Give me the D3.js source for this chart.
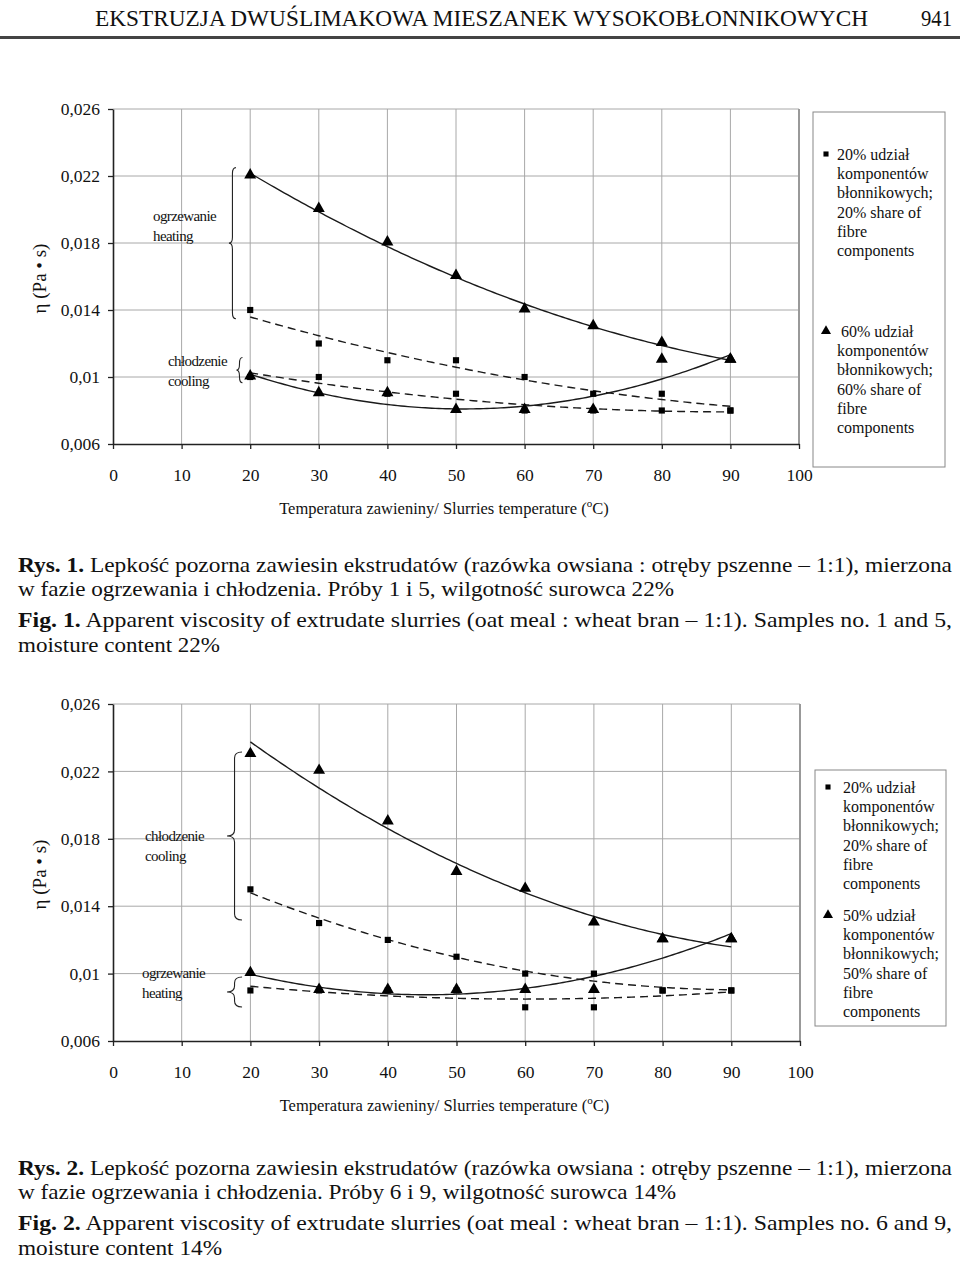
<!DOCTYPE html>
<html><head><meta charset="utf-8">
<script src="https://cdn.jsdelivr.net/npm/d3@7"></script>
<style>
body{margin:0;background:#fff}
svg{display:block}
text{font-family:"Liberation Serif","Times New Roman",serif;fill:#111}
</style>
</head><body><script>
// ---------- DATA ----------
const temps=[20,30,40,50,60,70,80,90];
const xTicks=[0,10,20,30,40,50,60,70,80,90,100];
const yTicks=[0.006,0.01,0.014,0.018,0.022,0.026];
const yTickLabels=["0,006","0,01","0,014","0,018","0,022","0,026"];

const fig1SquaresHeating=[0.014,0.012,0.011,0.011,0.010,0.009,0.009,0.008];
const fig1SquaresCooling=[0.010,0.010,0.009,0.009,0.008,0.008,0.008,0.008];
const fig1TrianglesHeating=[0.022,0.020,0.018,0.016,0.014,0.013,0.012,0.011];
const fig1TrianglesCooling=[0.010,0.009,0.009,0.008,0.008,0.008,0.011,0.011];

const fig2SquaresCooling=[0.015,0.013,0.012,0.011,0.010,0.010,0.009,0.009];
const fig2SquaresHeating=[0.009,0.009,0.009,0.009,0.008,0.008,0.009,0.009];
const fig2TrianglesCooling=[0.023,0.022,0.019,0.016,0.015,0.013,0.012,0.012];
const fig2TrianglesHeating=[0.010,0.009,0.009,0.009,0.009,0.009,0.012,0.012];

const fig1LegendSquare=["20% udział","komponentów","błonnikowych;","20% share of","fibre","components"];
const fig1LegendTriangle=[" 60% udział","komponentów","błonnikowych;","60% share of","fibre","components"];
const fig2LegendSquare=["20% udział","komponentów","błonnikowych;","20% share of","fibre","components"];
const fig2LegendTriangle=["50% udział","komponentów","błonnikowych;","50% share of","fibre","components"];

const headerTitle="EKSTRUZJA DWUŚLIMAKOWA MIESZANEK WYSOKOBŁONNIKOWYCH";
const pageNumber="941";
const yAxisTitle="η (Pa • s)";
const xAxisTitle="Temperatura zawieniny/ Slurries temperature (";

const caption1=[
 ["Rys. 1.", " Lepkość pozorna zawiesin ekstrudatów (razówka owsiana : otręby pszenne – 1:1), mierzona"],
 ["", "w fazie ogrzewania i chłodzenia. Próby 1 i 5, wilgotność surowca 22%"],
 ["Fig. 1.", " Apparent viscosity of extrudate slurries (oat meal : wheat bran – 1:1). Samples no. 1 and 5,"],
 ["", "moisture content 22%"]
];
const caption2=[
 ["Rys. 2.", " Lepkość pozorna zawiesin ekstrudatów (razówka owsiana : otręby pszenne – 1:1), mierzona"],
 ["", "w fazie ogrzewania i chłodzenia. Próby 6 i 9, wilgotność surowca 14%"],
 ["Fig. 2.", " Apparent viscosity of extrudate slurries (oat meal : wheat bran – 1:1). Samples no. 6 and 9,"],
 ["", "moisture content 14%"]
];

// ---------- DRAWING ----------
const svg=d3.select("body").append("svg").attr("width",960).attr("height",1262);

svg.append("text").attr("x",95).attr("y",26).attr("font-size",23.5)
  .attr("textLength",773).attr("lengthAdjust","spacingAndGlyphs").text(headerTitle);
svg.append("text").attr("x",921).attr("y",26).attr("font-size",23.5)
  .attr("textLength",31).attr("lengthAdjust","spacingAndGlyphs").text(pageNumber);
svg.append("line").attr("x1",0).attr("x2",960).attr("y1",37.5).attr("y2",37.5)
  .attr("stroke","#444").attr("stroke-width",3);

function quadFit(xs,ys){
  let S=[[0,0,0],[0,0,0],[0,0,0]],T=[0,0,0];
  xs.forEach((x,i)=>{const p=[1,x,x*x];for(let r=0;r<3;r++){T[r]+=p[r]*ys[i];for(let c=0;c<3;c++)S[r][c]+=p[r]*p[c];}});
  const M=S.map((row,i)=>[...row,T[i]]);
  for(let i=0;i<3;i++){
    let piv=i;for(let k=i+1;k<3;k++)if(Math.abs(M[k][i])>Math.abs(M[piv][i]))piv=k;
    [M[i],M[piv]]=[M[piv],M[i]];
    for(let k=i+1;k<3;k++){const f=M[k][i]/M[i][i];for(let j=i;j<4;j++)M[k][j]-=f*M[i][j];}
  }
  const sol=[0,0,0];
  for(let i=2;i>=0;i--){let s=M[i][3];for(let j=i+1;j<3;j++)s-=M[i][j]*sol[j];sol[i]=s/M[i][i];}
  return x=>sol[0]+sol[1]*x+sol[2]*x*x;
}

function bracePath(x,y1,y2,w){
  const ym=(y1+y2)/2,xm=x+w/2,r=Math.min(w,6);
  return `M${x+w},${y1} Q${xm},${y1} ${xm},${y1+r} L${xm},${ym-r} Q${xm},${ym} ${x},${ym} Q${xm},${ym} ${xm},${ym+r} L${xm},${y2-r} Q${xm},${y2} ${x+w},${y2}`;
}

function drawChart(cfg){
  const g=svg.append("g");
  const x=d3.scaleLinear().domain([0,100]).range([cfg.left,cfg.right]);
  const y=d3.scaleLinear().domain([0.006,0.026]).range([cfg.bottom,cfg.top]);

  g.selectAll(".vg").data(xTicks.filter(d=>d>0&&d<100)).enter().append("line")
    .attr("x1",d=>x(d)).attr("x2",d=>x(d)).attr("y1",y(0.026)).attr("y2",y(0.006))
    .attr("stroke","#a8a8a8").attr("stroke-width",1);
  g.selectAll(".hg").data(yTicks.filter(d=>d>0.006)).enter().append("line")
    .attr("x1",x(0)).attr("x2",x(100)).attr("y1",d=>y(d)).attr("y2",d=>y(d))
    .attr("stroke","#a8a8a8").attr("stroke-width",1);
  g.append("line").attr("x1",x(100)).attr("x2",x(100)).attr("y1",y(0.026)).attr("y2",y(0.006))
    .attr("stroke","#999").attr("stroke-width",2);

  const ya=g.append("g").attr("transform",`translate(${x(0)},0)`)
    .call(d3.axisLeft(y).tickValues(yTicks).tickFormat((d,i)=>yTickLabels[i]).tickSize(5).tickSizeOuter(0).tickPadding(8));
  const xa=g.append("g").attr("transform",`translate(0,${y(0.006)})`)
    .call(d3.axisBottom(x).tickValues(xTicks).tickFormat(d=>d).tickSize(5).tickSizeOuter(0).tickPadding(20));
  [ya,xa].forEach(a=>{
    a.select(".domain").attr("stroke","#222").attr("stroke-width",1.6);
    a.selectAll(".tick line").attr("stroke","#222").attr("stroke-width",1.3);
    a.selectAll(".tick text").attr("font-size",17.5).attr("font-family","Liberation Serif").attr("fill","#111");
  });

  g.append("text").attr("transform",`translate(${cfg.yTitleX},${(cfg.top+cfg.bottom)/2+2}) rotate(-90)`)
    .attr("text-anchor","middle").attr("font-size",19).text(yAxisTitle);
  const xt=g.append("text").attr("x",(x(0)+x(100))/2-12).attr("y",y(0.006)+70)
    .attr("text-anchor","middle").attr("font-size",16.5);
  xt.append("tspan").text(xAxisTitle);
  xt.append("tspan").attr("dy",-7).attr("font-size",11).text("o");
  xt.append("tspan").attr("dy",7).text("C)");

  const grid=d3.range(20,90.001,0.5);
  cfg.series.forEach(s=>{
    const f=quadFit(temps,s.values);
    g.append("path").datum(grid)
      .attr("d",d3.line().x(d=>x(d)).y(d=>y(f(d))))
      .attr("fill","none").attr("stroke","#1a1a1a").attr("stroke-width",1.4)
      .attr("stroke-dasharray",s.dash?"8,5":null);
  });
  cfg.series.forEach(s=>{
    const sym=s.marker==="square"?d3.symbol(d3.symbolSquare,38):d3.symbol(d3.symbolTriangle,62);
    g.selectAll(null).data(s.values).enter().append("path")
      .attr("d",sym).attr("fill","#000")
      .attr("transform",(d,i)=>`translate(${x(temps[i])},${y(d)+(s.marker==="square"?0:-1)})`);
  });

  cfg.braces.forEach(b=>{
    g.append("path").attr("d",bracePath(x(b.x),y(b.y1),y(b.y2),b.w))
      .attr("fill","none").attr("stroke","#222").attr("stroke-width",1.1);
  });
  cfg.notes.forEach(n=>{
    g.append("text").attr("x",n.x).attr("y",n.y).attr("font-size",15).attr("letter-spacing",-0.6).text(n.t);
  });

  const L=cfg.legend;
  g.append("rect").attr("x",L.x).attr("y",L.y).attr("width",L.w).attr("height",L.h)
    .attr("fill","#fff").attr("stroke","#888").attr("stroke-width",1);
  L.items.forEach(it=>{
    const sym=it.marker==="square"?d3.symbol(d3.symbolSquare,26):d3.symbol(d3.symbolTriangle,44);
    g.append("path").attr("d",sym).attr("fill","#000").attr("transform",`translate(${it.mx},${it.my})`);
    it.lines.forEach((t,i)=>{
      g.append("text").attr("x",it.tx).attr("y",it.ty+i*19.2).attr("font-size",16)
        .attr("xml:space","preserve").style("white-space","pre").text(t);
    });
  });
}

drawChart({
  left:113,right:799,top:109,bottom:444,yTitleX:46,
  series:[
    {values:fig1TrianglesHeating,marker:"triangle",dash:false},
    {values:fig1TrianglesCooling,marker:"triangle",dash:false},
    {values:fig1SquaresHeating,marker:"square",dash:true},
    {values:fig1SquaresCooling,marker:"square",dash:true}
  ],
  braces:[{x:16.9,y1:0.0225,y2:0.01348,w:7},{x:18.0,y1:0.01116,y2:0.00966,w:6}],
  notes:[{t:"ogrzewanie",x:153,y:221},{t:"heating",x:153,y:241},{t:"chłodzenie",x:168,y:366},{t:"cooling",x:168,y:386}],
  legend:{x:813,y:112,w:132,h:355,items:[
    {marker:"square",mx:826,my:154,tx:837,ty:160,lines:fig1LegendSquare},
    {marker:"triangle",mx:826,my:331,tx:837,ty:337,lines:fig1LegendTriangle}
  ]}
});

drawChart({
  left:113,right:800,top:704,bottom:1041,yTitleX:46,
  series:[
    {values:fig2TrianglesCooling,marker:"triangle",dash:false},
    {values:fig2TrianglesHeating,marker:"triangle",dash:false},
    {values:fig2SquaresCooling,marker:"square",dash:true},
    {values:fig2SquaresHeating,marker:"square",dash:true}
  ],
  braces:[{x:16.6,y1:0.02315,y2:0.01318,w:15},{x:16.6,y1:0.0098,y2:0.00802,w:15}],
  notes:[{t:"chłodzenie",x:145,y:841},{t:"cooling",x:145,y:861},{t:"ogrzewanie",x:142,y:978},{t:"heating",x:142,y:998}],
  legend:{x:815,y:770,w:131,h:256,items:[
    {marker:"square",mx:828,my:787,tx:843,ty:793,lines:fig2LegendSquare},
    {marker:"triangle",mx:828,my:915,tx:843,ty:921,lines:fig2LegendTriangle}
  ]}
});

function caption(lines,y0,widths){
  lines.forEach((ln,i)=>{
    const t=svg.append("text").attr("x",18).attr("y",y0+[0,24,55,80][i]).attr("font-size",21.5)
      .attr("textLength",widths[i]).attr("lengthAdjust","spacingAndGlyphs")
      .attr("xml:space","preserve").style("white-space","pre");
    if(ln[0]) t.append("tspan").attr("font-weight","bold").text(ln[0]);
    t.append("tspan").text(ln[1]);
  });
}
caption(caption1,572,[934,656,934,202]);
caption(caption2,1175,[934,658,934,204]);
</script></body></html>
